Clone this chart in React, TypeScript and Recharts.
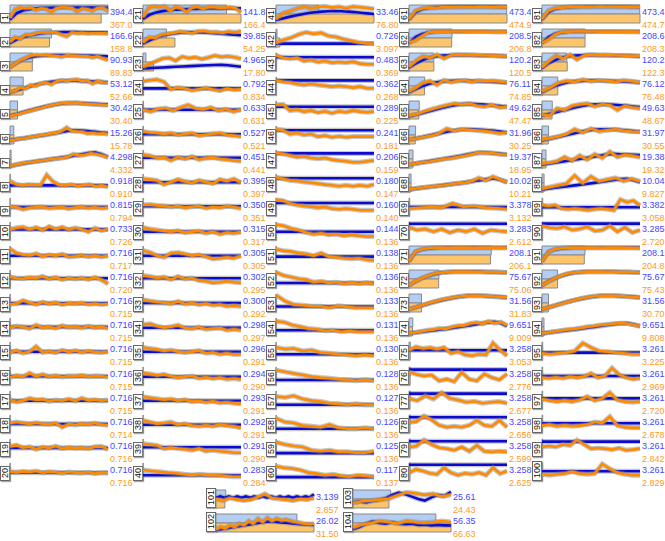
import React from "react";
import { LineChart, Line, XAxis, YAxis, BarChart, Bar, Cell } from "recharts";

// value labels shown at the right of each panel
const blueValues = [
  "394.4", "166.6", "90.93", "53.12", "30.42", "15.26", "4.298", "0.918", "0.815", "0.733",
  "0.716", "0.716", "0.716", "0.716", "0.716", "0.716", "0.716", "0.716", "0.716", "0.716",
  "141.8", "39.85", "4.965", "0.792", "0.633", "0.527", "0.451", "0.395", "0.350", "0.315",
  "0.305", "0.302", "0.300", "0.298", "0.296", "0.294", "0.293", "0.292", "0.291", "0.283",
  "33.46", "0.726", "0.483", "0.362", "0.289", "0.241", "0.206", "0.180", "0.160", "0.144",
  "0.138", "0.136", "0.133", "0.131", "0.130", "0.128", "0.127", "0.126", "0.125", "0.117",
  "473.4", "208.5", "120.2", "76.11", "49.62", "31.96", "19.37", "10.02", "3.378", "3.283",
  "208.1", "75.67", "31.56", "9.651", "3.258", "3.258", "3.258", "3.258", "3.258", "3.258",
  "473.4", "208.6", "120.2", "76.12", "49.63", "31.97", "19.38", "10.04", "3.382", "3.285",
  "208.1", "75.67", "31.56", "9.651", "3.261", "3.261", "3.261", "3.261", "3.261", "3.261",
  "3.139", "26.02", "25.61", "56.35",
];

const orangeValues = [
  "367.0", "158.8", "89.83", "52.66", "30.40", "15.78", "4.332", "0.910", "0.794", "0.726",
  "0.717", "0.720", "0.715", "0.715", "0.715", "0.715", "0.715", "0.714", "0.716", "0.716",
  "166.4", "54.25", "17.80", "0.834", "0.631", "0.521", "0.441", "0.397", "0.351", "0.317",
  "0.305", "0.295", "0.292", "0.297", "0.291", "0.290", "0.291", "0.291", "0.290", "0.284",
  "76.80", "3.097", "0.369", "0.268", "0.225", "0.181", "0.159", "0.147", "0.140", "0.136",
  "0.136", "0.136", "0.136", "0.136", "0.136", "0.136", "0.136", "0.136", "0.136", "0.137",
  "474.9", "206.8", "120.5", "74.85", "47.47", "30.25", "18.95", "10.21", "3.132", "2.612",
  "206.1", "75.06", "31.83", "9.009", "3.053", "2.776", "2.677", "2.656", "2.599", "2.625",
  "474.7", "208.3", "122.3", "76.48", "48.67", "30.55", "19.32", "9.827", "3.058", "2.720",
  "204.8", "75.43", "30.70", "9.808", "3.225", "2.969", "2.720", "2.678", "2.842", "2.829",
  "2.857", "31.50", "24.43", "66.63",
];

// full bar length per panel group
const barMax = [394.4, 166.4, 76.8, 474.9, 248, 474.7, 31.5, 66.63];

// line shapes, 0 = bottom of panel, 100 = top
const blueLines: number[][] = [
  [15, 55, 72, 80, 85, 88, 89, 90, 90, 91, 91, 90, 90, 90, 90, 89],
  [18, 40, 55, 66, 74, 80, 84, 86, 87, 87, 87, 86, 86, 85, 85, 84],
  [18, 45, 65, 78, 86, 90, 92, 93, 93, 92, 92, 91, 90, 89, 87, 85],
  [10, 22, 35, 47, 58, 67, 74, 79, 82, 83, 83, 82, 80, 78, 75, 72],
  [15, 25, 36, 47, 58, 68, 77, 85, 91, 94, 94, 92, 90, 88, 86, 84],
  [18, 24, 30, 36, 42, 48, 55, 62, 69, 76, 80, 78, 74, 70, 66, 62],
  [5, 14, 22, 29, 35, 41, 47, 53, 59, 65, 72, 80, 88, 92, 80, 62],
  [35, 35, 35], [50, 50, 50], [60, 60, 60], [45, 45, 45], [55, 55, 55],
  [48, 48, 48], [50, 50, 50], [45, 45, 45], [48, 48, 48], [45, 45, 45],
  [50, 50, 50], [50, 50, 50], [45, 45, 45],
  [20, 45, 60, 68, 73, 77, 79, 81, 82, 83, 84, 85, 85, 86, 86, 86],
  [15, 35, 52, 65, 74, 80, 84, 86, 86, 85, 83, 80, 77, 73, 70, 67],
  [10, 12, 14, 16, 18, 20, 22, 24, 26, 28, 30, 31, 32, 30, 25, 20],
  [35, 35, 35], [52, 52, 52], [55, 55, 55], [58, 58, 58], [55, 55, 55],
  [55, 55, 55], [45, 45, 45], [45, 45, 45], [55, 55, 55], [50, 50, 50],
  [45, 45, 45], [45, 45, 45], [45, 45, 45], [45, 45, 45], [45, 45, 45],
  [55, 55, 55], [30, 30, 30],
  [12, 22, 32, 41, 49, 56, 61, 65, 67, 68, 67, 65, 62, 58, 54, 50],
  [15, 15, 15], [80, 80, 80], [85, 85, 85], [70, 70, 70], [80, 80, 80],
  [85, 85, 85], [80, 80, 80], [75, 75, 75], [45, 45, 45], [40, 40, 40],
  [25, 25, 25], [28, 28, 28], [30, 30, 30], [30, 30, 30], [25, 25, 25],
  [20, 20, 20], [20, 20, 20], [18, 18, 18], [18, 18, 18],
  [15, 60, 80, 88, 92, 94, 95, 95, 96, 96, 96, 95, 95, 95, 94, 94],
  [18, 55, 75, 85, 89, 90, 91, 91, 91, 91, 90, 90, 90, 89, 89, 89],
  [15, 40, 60, 75, 85, 90, 92, 93, 93, 93, 92, 91, 90, 89, 88, 86],
  [10, 30, 48, 62, 72, 78, 81, 83, 83, 82, 81, 80, 78, 76, 73, 70],
  [10, 20, 30, 41, 52, 62, 72, 80, 86, 88, 87, 85, 82, 78, 74, 70],
  [20, 28, 36, 45, 54, 63, 72, 79, 84, 86, 85, 83, 80, 76, 71, 66],
  [15, 22, 29, 35, 42, 49, 56, 63, 70, 78, 86, 90, 89, 86, 82, 78],
  [10, 15, 20, 25, 30, 35, 40, 45, 50, 56, 62, 68, 74, 78, 70, 55],
  [50, 50, 50], [95, 95, 95],
  [10, 70, 85, 91, 94, 95, 96, 96, 96, 96, 96, 96, 96, 96, 96, 96],
  [10, 35, 55, 70, 82, 90, 94, 96, 96, 96, 96, 95, 94, 93, 92, 90],
  [10, 22, 35, 47, 58, 68, 77, 85, 91, 95, 96, 95, 93, 91, 88, 85],
  [10, 15, 20, 25, 30, 35, 40, 46, 52, 58, 65, 72, 78, 82, 75, 55],
  [55, 55, 55], [90, 90, 90], [90, 90, 90], [92, 92, 92], [92, 92, 92], [95, 95, 95],
  [15, 62, 82, 89, 92, 94, 95, 95, 96, 96, 96, 95, 95, 95, 94, 94],
  [18, 55, 76, 85, 89, 90, 91, 91, 91, 91, 90, 90, 90, 89, 89, 89],
  [12, 42, 62, 77, 86, 90, 92, 93, 93, 92, 92, 91, 90, 89, 88, 86],
  [10, 32, 50, 63, 73, 79, 82, 84, 84, 83, 82, 81, 79, 77, 75, 72],
  [15, 25, 35, 45, 55, 65, 74, 81, 85, 86, 85, 83, 80, 76, 72, 68],
  [15, 25, 34, 43, 52, 61, 70, 78, 84, 86, 86, 84, 81, 78, 74, 70],
  [15, 21, 27, 33, 39, 45, 51, 58, 65, 72, 79, 82, 80, 78, 76, 74],
  [10, 15, 20, 25, 30, 35, 40, 45, 51, 57, 63, 69, 74, 76, 68, 55],
  [48, 48, 48], [96, 96, 96],
  [10, 70, 85, 91, 94, 95, 96, 96, 96, 96, 96, 96, 96, 96, 96, 96],
  [10, 35, 55, 70, 82, 90, 94, 96, 96, 96, 96, 95, 94, 93, 92, 90],
  [10, 22, 35, 47, 58, 68, 77, 85, 91, 95, 96, 95, 93, 91, 88, 85],
  [10, 15, 20, 25, 30, 35, 40, 45, 50, 56, 62, 68, 72, 74, 66, 55],
  [40, 40, 40], [50, 50, 50], [60, 60, 60], [55, 55, 55], [90, 90, 90], [55, 55, 55],
  [58, 66, 58, 66, 58, 66, 58, 66, 58, 66, 58, 66, 58, 66, 58, 66, 58, 66, 58, 66, 58, 66, 60, 80],
  [5, 12, 19, 26, 33, 40, 47, 54, 60, 58, 54, 50, 46, 42, 40, 38],
  [30, 35, 28, 38, 45, 55, 75, 90, 80, 65, 50, 40, 60, 75, 70, 95],
  [10, 25, 45, 60, 50, 45, 55, 45, 42, 45, 38, 40, 35, 38, 35, 35],
];

const orangeLines: number[][] = [
  [25, 80, 92, 86, 90, 75, 86, 82, 62, 86, 92, 90, 88, 66, 84, 80, 70, 88, 90, 70],
  [25, 55, 45, 70, 68, 80, 84, 86, 85, 84, 70, 60, 84, 80, 82, 78, 80, 80, 79, 78],
  [18, 40, 60, 75, 90, 95, 92, 94, 90, 88, 82, 92, 90, 88, 86, 85, 78, 85, 72, 62],
  [12, 18, 40, 32, 55, 50, 65, 72, 60, 78, 86, 82, 88, 90, 80, 84, 65, 80, 72, 70],
  [12, 20, 28, 38, 45, 55, 62, 72, 80, 86, 92, 94, 92, 95, 90, 88, 86, 84, 82, 80],
  [15, 22, 28, 30, 38, 42, 48, 52, 60, 62, 75, 96, 75, 72, 70, 60, 62, 58, 60, 55],
  [5, 15, 22, 28, 32, 38, 42, 48, 52, 56, 62, 80, 72, 75, 85, 80, 72, 60],
  [62, 42, 35, 40, 38, 36, 100, 60, 38, 35, 40, 32, 36, 40, 30, 35, 25],
  [52, 48, 35, 45, 48, 50, 42, 46, 48, 40, 46, 50, 44, 48, 42, 46],
  [58, 70, 75, 60, 72, 56, 78, 62, 74, 58, 70, 60, 45, 68, 52, 62],
  [88, 62, 52, 48, 58, 42, 52, 46, 55, 38, 42, 48, 40, 46, 38, 46],
  [62, 55, 52, 60, 56, 66, 50, 60, 46, 56, 50, 56, 48, 60, 45, 20],
  [42, 46, 66, 52, 42, 56, 45, 52, 40, 48, 46, 50, 42, 46, 40, 45],
  [46, 56, 50, 40, 62, 46, 50, 42, 58, 48, 52, 44, 56, 46, 50, 42],
  [42, 52, 36, 46, 78, 42, 48, 40, 56, 44, 52, 42, 50, 44, 40, 46],
  [42, 52, 46, 68, 48, 60, 46, 52, 44, 50, 48, 54, 46, 50, 48, 44],
  [50, 38, 46, 60, 52, 54, 42, 50, 46, 56, 44, 62, 48, 52, 46, 50],
  [55, 62, 56, 50, 58, 52, 48, 56, 30, 50, 44, 52, 48, 56, 46, 42],
  [60, 68, 52, 58, 42, 56, 50, 62, 46, 54, 48, 52, 46, 58, 60, 40],
  [52, 48, 54, 50, 56, 46, 52, 48, 42, 50, 46, 44, 48, 40, 46, 44],
  [30, 88, 96, 92, 98, 70, 94, 86, 62, 90, 96, 82, 92, 94, 88, 90, 92, 86, 60],
  [22, 55, 50, 70, 76, 82, 90, 86, 80, 92, 94, 86, 88, 82, 90, 86, 92],
  [18, 38, 55, 72, 76, 58, 84, 74, 80, 68, 78, 90, 82, 86, 80, 70],
  [80, 86, 90, 76, 30, 40, 34, 22, 30, 38, 28, 20, 34, 26, 30],
  [52, 40, 56, 62, 46, 66, 82, 60, 54, 66, 46, 56, 40, 52],
  [72, 66, 62, 56, 62, 50, 56, 62, 46, 52, 58, 62, 50, 46, 40],
  [76, 70, 56, 60, 40, 62, 50, 66, 46, 56, 60, 50, 46, 40, 36],
  [76, 72, 66, 40, 56, 72, 60, 50, 66, 56, 46, 72, 62, 76, 52],
  [62, 66, 60, 56, 50, 56, 46, 52, 56, 42, 50, 46, 56, 50, 40],
  [72, 62, 56, 50, 46, 52, 40, 46, 50, 36, 46, 30, 40, 36, 44],
  [78, 66, 46, 36, 62, 66, 56, 46, 52, 40, 26, 30, 36, 30, 46],
  [72, 66, 56, 62, 46, 66, 50, 56, 40, 36, 26, 30, 36, 30, 26],
  [70, 62, 56, 52, 46, 60, 44, 50, 40, 46, 36, 40, 30, 34, 28],
  [66, 70, 56, 46, 52, 62, 44, 40, 50, 36, 40, 44, 30, 36, 30],
  [72, 66, 60, 50, 56, 46, 40, 46, 52, 36, 40, 30, 36, 28, 30],
  [68, 62, 54, 60, 48, 40, 46, 50, 36, 42, 34, 40, 30, 34, 28],
  [70, 64, 58, 52, 56, 46, 52, 40, 44, 36, 42, 32, 36, 30, 26],
  [72, 62, 52, 56, 62, 46, 52, 40, 36, 42, 36, 46, 40, 35, 25],
  [76, 72, 66, 46, 52, 46, 42, 36, 46, 30, 36, 30, 26, 20, 20],
  [62, 56, 52, 46, 42, 36, 30, 36, 30, 30, 26, 20, 20],
  [18, 55, 68, 85, 95, 86, 94, 98, 90, 95, 86, 96, 92, 88, 82],
  [18, 38, 52, 72, 86, 76, 82, 62, 56, 42, 32, 22, 16, 15],
  [92, 76, 70, 76, 56, 62, 50, 56, 46, 50, 46, 52, 40, 36, 36],
  [86, 76, 72, 62, 56, 62, 56, 52, 46, 50, 46, 40, 46, 36, 36],
  [82, 86, 46, 52, 40, 46, 34, 42, 30, 42, 36, 46, 40, 36, 40],
  [86, 80, 56, 62, 50, 56, 40, 46, 36, 42, 36, 40, 40, 40, 40],
  [88, 82, 72, 62, 66, 56, 52, 56, 46, 40, 36, 30, 30, 36, 40],
  [86, 76, 66, 62, 56, 52, 46, 40, 36, 30, 36, 30, 36, 30, 40],
  [96, 90, 72, 62, 56, 52, 46, 50, 40, 36, 40, 36, 30, 30, 30],
  [90, 82, 66, 56, 40, 30, 36, 26, 30, 20, 26, 20, 16, 16],
  [86, 76, 72, 62, 56, 46, 62, 40, 36, 30, 26, 30, 20, 16],
  [92, 72, 62, 52, 46, 30, 36, 26, 30, 20, 26, 20, 26, 20],
  [100, 62, 40, 36, 30, 30, 20, 32, 26, 20, 20, 20],
  [86, 80, 62, 52, 40, 36, 26, 30, 20, 26, 20, 20, 20],
  [72, 62, 66, 50, 56, 40, 36, 30, 26, 20, 26, 20],
  [86, 76, 66, 56, 46, 40, 36, 30, 26, 20, 26, 20],
  [72, 66, 76, 56, 46, 40, 30, 26, 20, 26, 20, 20],
  [86, 62, 56, 40, 36, 30, 46, 26, 20, 20, 26, 20],
  [86, 72, 62, 56, 36, 30, 36, 26, 26, 20, 20, 30],
  [86, 76, 72, 62, 46, 40, 30, 36, 26, 20, 30, 26, 20],
  [18, 70, 85, 90, 88, 92, 94, 92, 95, 94, 93, 95, 94, 92, 93, 94],
  [22, 35, 62, 86, 90, 91, 90, 91, 91, 90, 90, 91, 90, 89, 90, 89],
  [20, 58, 86, 76, 96, 72, 92, 95, 94, 93, 92, 91, 90, 88, 86],
  [15, 40, 70, 82, 56, 86, 74, 82, 86, 76, 84, 80, 82, 78, 72],
  [14, 24, 40, 55, 68, 80, 90, 84, 90, 76, 70, 82, 66, 70],
  [20, 28, 38, 46, 60, 90, 76, 86, 82, 78, 74, 68, 60, 66],
  [15, 22, 30, 34, 42, 50, 55, 62, 70, 80, 90, 88, 86, 80, 76],
  [10, 16, 22, 26, 32, 36, 42, 48, 52, 62, 82, 66, 90, 72, 55],
  [40, 45, 50, 46, 72, 52, 56, 46, 42, 36],
  [72, 56, 62, 46, 62, 40, 56, 46, 62, 36, 56, 50, 46],
  [10, 72, 86, 92, 95, 96, 95, 96, 96, 96, 95, 96, 96, 96, 96, 95],
  [10, 36, 56, 72, 84, 90, 94, 96, 96, 96, 95, 95, 94, 93, 92, 90],
  [10, 22, 36, 48, 60, 70, 78, 86, 92, 95, 96, 95, 93, 91, 88, 85],
  [10, 16, 22, 30, 34, 42, 38, 50, 58, 60, 72, 78, 70, 85, 74, 80, 60],
  [55, 76, 66, 72, 62, 72, 36, 46, 26, 20, 30, 26, 100, 56, 20],
  [76, 60, 50, 56, 20, 30, 15, 72, 30, 20, 62, 40, 26, 62],
  [60, 46, 76, 56, 96, 60, 50, 36, 42, 30, 36, 40, 30],
  [60, 66, 100, 76, 42, 30, 36, 30, 42, 72, 42, 36, 72, 30],
  [55, 62, 100, 72, 52, 46, 36, 56, 30, 66, 30, 26, 30, 26],
  [45, 66, 56, 42, 36, 76, 46, 30, 42, 36, 46, 30, 76, 40, 56],
  [18, 72, 86, 90, 92, 94, 95, 94, 95, 96, 95, 95, 94, 94, 93, 94],
  [20, 40, 72, 88, 90, 91, 92, 91, 91, 90, 90, 91, 90, 90, 90, 89],
  [15, 55, 90, 70, 96, 65, 90, 95, 92, 93, 92, 91, 90, 89, 88],
  [15, 40, 70, 82, 76, 90, 80, 86, 82, 76, 86, 80, 72],
  [20, 15, 60, 50, 76, 86, 90, 72, 86, 80, 50, 76, 66, 60],
  [20, 30, 40, 56, 86, 66, 90, 72, 80, 86, 76, 72, 70],
  [20, 26, 36, 62, 40, 72, 46, 80, 56, 96, 62, 76, 70, 60],
  [15, 25, 36, 46, 96, 50, 90, 60, 72, 82, 62, 76, 60],
  [62, 56, 62, 40, 36, 40, 36, 30, 36, 40, 36, 30, 96, 80, 90, 60],
  [82, 70, 66, 76, 56, 62, 76, 50, 56, 82, 46, 72, 40, 56],
  [10, 70, 86, 92, 95, 96, 96, 96, 96, 95, 96, 96, 96, 95, 95, 94],
  [10, 34, 55, 72, 84, 90, 94, 96, 96, 96, 95, 95, 94, 93, 92, 90],
  [10, 22, 34, 46, 58, 68, 78, 86, 92, 95, 96, 95, 93, 90, 87, 84],
  [10, 16, 22, 28, 34, 38, 44, 52, 56, 62, 66, 70, 74, 72, 64, 55],
  [35, 30, 36, 40, 50, 100, 72, 50, 46, 40, 36, 30, 30],
  [40, 36, 42, 36, 46, 40, 46, 66, 40, 50, 100, 60, 40, 30, 36],
  [56, 46, 40, 46, 40, 50, 72, 46, 60, 96, 50, 40, 36, 40],
  [40, 46, 36, 42, 36, 40, 46, 62, 56, 96, 40, 30, 26, 26],
  [56, 62, 56, 72, 66, 100, 72, 46, 50, 46, 40, 50, 36, 40, 46],
  [36, 30, 36, 40, 52, 40, 36, 40, 100, 70, 46, 36, 30, 30],
  [50, 40, 56, 46, 40, 46, 62, 82, 56, 50, 46, 40, 50, 46, 56],
  [8, 25, 15, 36, 25, 46, 36, 62, 46, 76, 56, 82, 62, 78, 66, 72, 62, 56, 52, 46, 42, 46],
  [25, 36, 40, 46, 52, 72, 92, 86, 76, 82, 66, 76],
  [20, 40, 50, 62, 56, 46, 62, 56, 52, 56, 62, 56],
];

const PLOT_W = 98;
const PLOT_H = 18;
const BLUE = "#0a0ad0";
const ORANGE = "#ff8a00";
const FONT = "'Liberation Sans', Arial, sans-serif";

function groupOf(k: number) {
  if (k < 60) return Math.floor(k / 20);
  if (k < 70) return 3;
  if (k < 80) return 4;
  if (k < 100) return 5;
  return k < 102 ? 6 : 7;
}

function placeOf(k: number) {
  if (k < 100) {
    const col = Math.floor(k / 20);
    const row = k % 20;
    return { x: col * 133, y: 5 + row * 24.1 };
  }
  const x = k < 102 ? 206 : 343;
  const y = k % 2 === 0 ? 490 : 514;
  return { x, y };
}

const toPoints = (arr: number[]) =>
  arr.map((v, i) => ({ x: i / (arr.length - 1), y: v }));

function Panel({ k }: { k: number }) {
  const { x, y } = placeOf(k);
  const label = String(k + 1);
  const boxH = 5 + label.length * 5;
  const bars = [
    { k: "b", v: parseFloat(blueValues[k]), fill: "#b3cdf3" },
    { k: "o", v: parseFloat(orangeValues[k]), fill: "#fcc56c" },
  ];
  const blue = toPoints(blueLines[k]);
  const orange = toPoints(orangeLines[k]);

  return (
    <>
      <div
        style={{
          position: "absolute",
          left: x,
          top: y + PLOT_H - boxH,
          width: 8,
          height: boxH - 2,
          border: "1px solid #666",
          background: "#fff",
          boxShadow: "1px 1px 1px rgba(0,0,0,0.35)",
          display: "flex",
          alignItems: "center",
          justifyContent: "center",
        }}
      >
        <span
          style={{
            writingMode: "vertical-rl",
            transform: "rotate(180deg)",
            fontSize: 9,
            fontFamily: FONT,
            color: "#111",
            lineHeight: "8px",
          }}
        >
          {label}
        </span>
      </div>

      <div style={{ position: "absolute", left: x + 10, top: y }}>
        <BarChart
          layout="vertical"
          width={PLOT_W}
          height={PLOT_H}
          data={bars}
          margin={{ top: 0, right: 0, bottom: 0, left: 0 }}
          barCategoryGap={0}
        >
          <XAxis
            type="number"
            domain={[0, barMax[groupOf(k)]]}
            height={0}
            tick={false}
            tickLine={false}
            axisLine={{ stroke: "#c8c8c8" }}
          />
          <YAxis type="category" dataKey="k" hide />
          <Bar dataKey="v" stroke="#8a8a8a" strokeWidth={1} isAnimationActive={false}>
            {bars.map((b) => (
              <Cell key={b.k} fill={b.fill} />
            ))}
          </Bar>
        </BarChart>
      </div>

      <div style={{ position: "absolute", left: x + 10, top: y }}>
        <LineChart
          width={PLOT_W}
          height={PLOT_H}
          margin={{ top: 1, right: 0, bottom: 1, left: 0 }}
        >
          <XAxis type="number" dataKey="x" domain={[0, 1]} hide />
          <YAxis type="number" domain={[0, 100]} hide />
          <Line data={blue} dataKey="y" stroke="#8c8c8c" strokeOpacity={0.5} strokeWidth={5} dot={false} isAnimationActive={false} />
          <Line data={blue} dataKey="y" stroke={BLUE} strokeWidth={2.6} dot={false} isAnimationActive={false} />
          <Line data={orange} dataKey="y" stroke="#8c8c8c" strokeOpacity={0.5} strokeWidth={5} dot={false} isAnimationActive={false} />
          <Line data={orange} dataKey="y" stroke={ORANGE} strokeWidth={2.6} dot={false} isAnimationActive={false} />
        </LineChart>
      </div>

      <div
        style={{
          position: "absolute",
          left: x + 110,
          top: y + 1,
          fontFamily: FONT,
          fontSize: 9,
          lineHeight: "13px",
          whiteSpace: "nowrap",
        }}
      >
        <div style={{ color: "#4646ff" }}>{blueValues[k]}</div>
        <div style={{ color: "#ff9a1e" }}>{orangeValues[k]}</div>
      </div>
    </>
  );
}

export default function App() {
  return (
    <div
      style={{
        position: "absolute",
        left: 0,
        top: 0,
        width: 665,
        height: 541,
        background: "#fff",
        overflow: "hidden",
      }}
    >
      <style>{".recharts-surface{overflow:visible}"}</style>
      {blueValues.map((_, k) => (
        <Panel key={k} k={k} />
      ))}
    </div>
  );
}
